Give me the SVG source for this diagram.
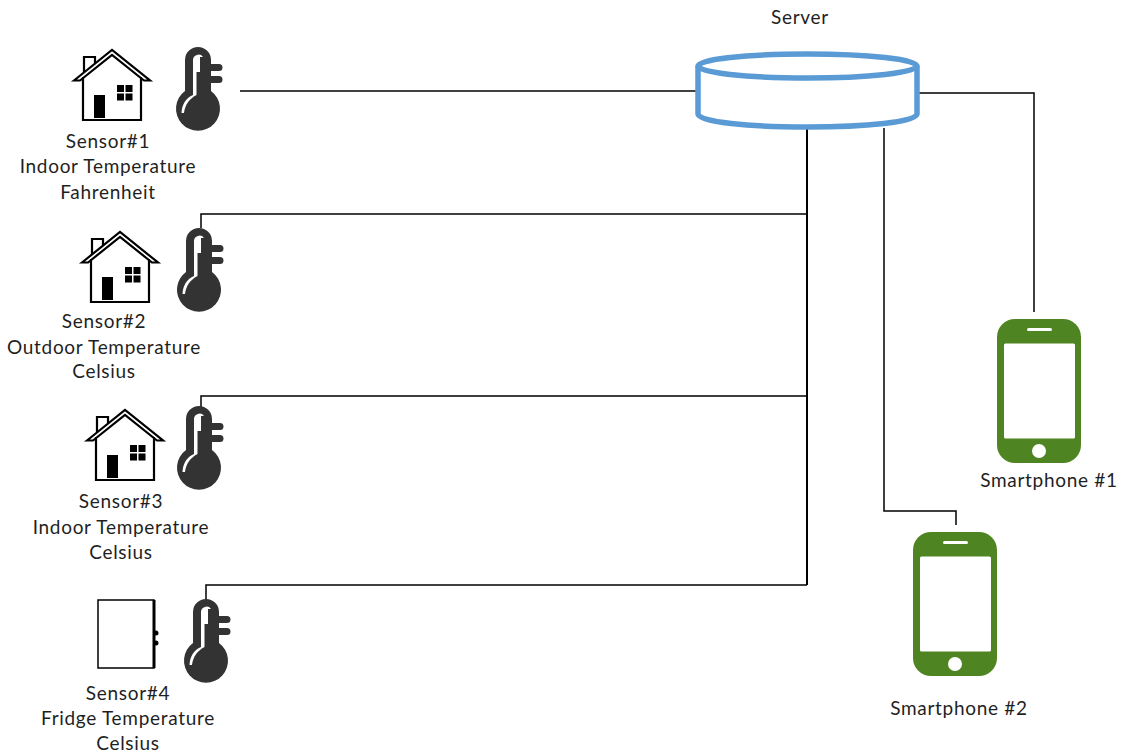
<svg xmlns="http://www.w3.org/2000/svg" width="1121" height="756" viewBox="0 0 1121 756">
<style>
text{font-family:"Lato","Open Sans","Liberation Sans",sans-serif;font-size:19px;letter-spacing:.7px;fill:#1f1f1f;text-anchor:middle}
.c{fill:none;stroke:#000;stroke-width:1.5}
.h{fill:none;stroke:#000;stroke-width:2.200;stroke-linejoin:miter}
</style>
<defs>
<g id="house">
<path class="h" d="M10 28V71H68V28M1 31.500L39 1L77 31.500H71L39 6L7 31.500Z"/>
<path class="h" d="M11 23V8H22V14"/>
<rect x="21" y="46" width="11" height="23"/>
<path d="M44 36h7v7h-7zM52.500 36h7v7h-7zM44 44.500h7v7h-7zM52.500 44.500h7v7h-7z"/>
</g>
<g id="thermo">
<path fill="#333" d="M9 44V13a13 13 0 0 1 26 0V17h8a3.500 3.500 0 0 1 0 7H35V29h8a3.500 3.500 0 0 1 0 7H35V44A22 22 0 1 1 9 44Z"/>
<path fill="#fff" d="M17 48V13a5.500 5.500 0 0 1 10-3H24V25H20.500V48C13 52 9 58 8 66H5.500C6 57 10 51 17 48Z"/>
</g>
<g id="phone">
<rect width="84" height="144" rx="18" fill="#4e8522"/>
<rect x="7" y="24.500" width="71" height="95" rx="1.500" fill="#fff"/>
<rect x="30" y="9" width="25" height="3" rx="1.500" fill="#fff"/>
<circle cx="42" cy="132" r="7" fill="#fff"/>
</g>
</defs>
<g id="connectors">
<path class="c" d="M240 91H697"/>
<path class="c" style="stroke-width:2" d="M807 128V585"/>
<path class="c" d="M201 228V214H807M201 407V396H807M206 600V585H807"/>
<path class="c" d="M884 128V511H956V525M919 93H1034V312"/>
</g>
<g id="server">
<path fill="#fff" stroke="#5b9bd5" stroke-width="5.500" stroke-linejoin="round" d="M698 66V114C698 122 750 127 807.500 127S917 122 917 114V66"/>
<ellipse cx="807.500" cy="66" rx="109.500" ry="12" fill="#fff" stroke="#5b9bd5" stroke-width="5.500"/>
<text x="800" y="24">Server</text>
</g>
<g id="sensor1">
<use href="#house" x="73" y="49"/><use href="#thermo" x="176" y="47"/>
<text x="108" y="148">Sensor#1</text><text x="108" y="173">Indoor Temperature</text><text x="108" y="199">Fahrenheit</text>
</g>
<g id="sensor2">
<use href="#house" x="81" y="231"/><use href="#thermo" x="177" y="228"/>
<text x="104" y="328">Sensor#2</text><text x="104" y="354">Outdoor Temperature</text><text x="104" y="378">Celsius</text>
</g>
<g id="sensor3">
<use href="#house" x="86" y="409"/><use href="#thermo" x="177" y="406"/>
<text x="121" y="508">Sensor#3</text><text x="121" y="534">Indoor Temperature</text><text x="121" y="559">Celsius</text>
</g>
<g id="sensor4">
<path fill="#fff" stroke="#000" stroke-width="1.500" d="M98 600H154V668H98Z"/>
<path stroke="#000" stroke-width="3" d="M154 600V668"/>
<circle cx="156" cy="633" r="2.500"/><circle cx="156" cy="643" r="2.500"/>
<use href="#thermo" x="184" y="599"/>
<text x="128" y="700">Sensor#4</text><text x="128" y="725">Fridge Temperature</text><text x="128" y="750">Celsius</text>
</g>
<g id="phone1">
<use href="#phone" x="997" y="319"/>
<text x="1049" y="487">Smartphone #1</text>
</g>
<g id="phone2">
<use href="#phone" x="913" y="532"/>
<text x="959" y="715">Smartphone #2</text>
</g>
</svg>
